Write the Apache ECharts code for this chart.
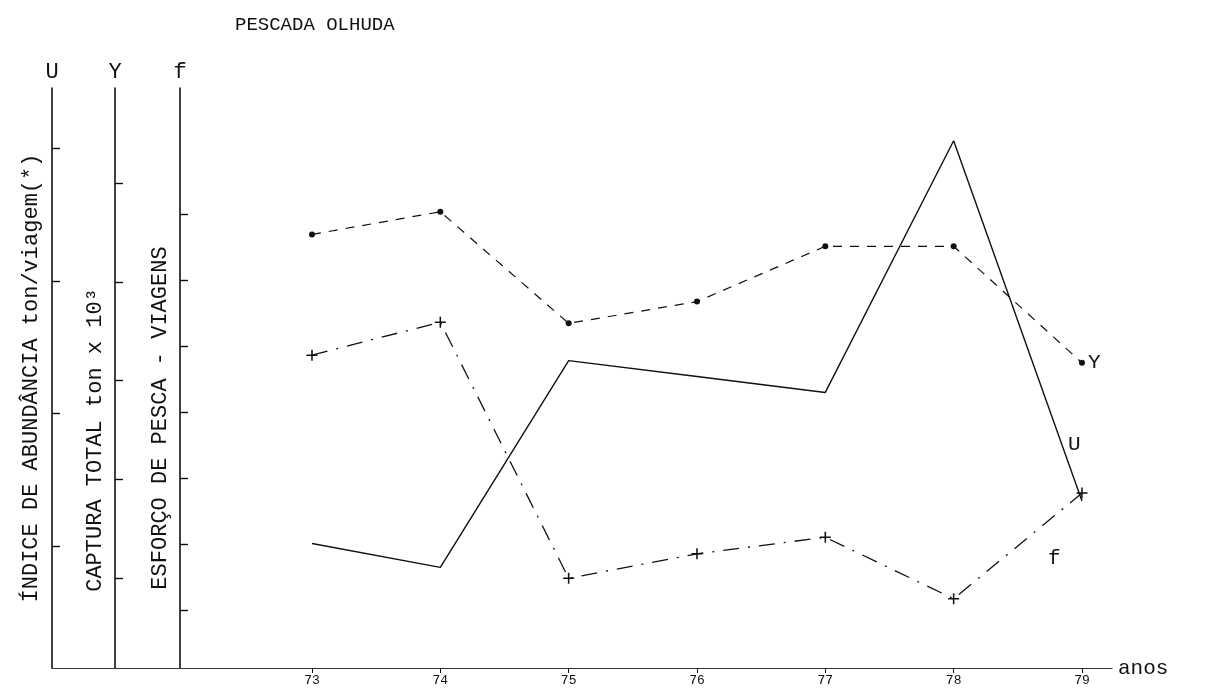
<!DOCTYPE html>
<html>
<head>
<meta charset="utf-8">
<script src="https://cdn.jsdelivr.net/npm/echarts@6/dist/echarts.min.js"></script>
<style>
  html, body { margin: 0; padding: 0; background: #fff; }
  #chart { width: 1217px; height: 697px; }
</style>
</head>
<body>
<div id="chart"></div>
<script>
// Years (19xx) along the horizontal axis
const years = [73, 74, 75, 76, 77, 78, 79];
// U: índice de abundância (ton/viagem)
const indiceU = [0.51, 0.42, 1.20, 1.14, 1.08, 2.03, 0.67];
// Y: captura total (ton x 10^3)
const capturaY = [4.48, 4.71, 3.58, 3.80, 4.36, 4.36, 3.18];
// f: esforço de pesca (viagens)
const esforcoF = [4.86, 5.36, 1.48, 1.85, 2.10, 1.17, 2.77];

// Unlabelled tick positions on each vertical scale
const uTicks = [0.5, 1, 1.5, 2];
const yTicks = [1, 2, 3, 4, 5];
const fTicks = [1, 2, 3, 4, 5, 6, 7];

const FONT = '"Liberation Mono", "DejaVu Sans Mono", monospace';
const INK = '#111';

const pairs = vals => years.map((yr, i) => [yr, vals[i]]);

const chart = echarts.init(document.getElementById('chart'), null, { renderer: 'canvas' });

const yAxisBase = (name, offset, min, max, ticks) => ({
  type: 'value',
  position: 'left',
  offset: offset,
  min: min,
  max: max,
  name: name,
  nameLocation: 'end',
  nameGap: 5,
  nameTextStyle: { fontFamily: FONT, fontSize: 22, color: INK },
  axisLine: { show: true, lineStyle: { color: INK, width: 1.6 } },
  axisTick: { show: true, inside: true, length: 8, customValues: ticks, lineStyle: { color: INK, width: 1.4 } },
  axisLabel: { show: false },
  splitLine: { show: false }
});

const option = {
  backgroundColor: '#fff',
  animation: false,
  title: {
    text: 'PESCADA OLHUDA',
    left: 230,
    top: 10,
    textStyle: { fontFamily: FONT, fontSize: 19, fontWeight: 'normal', color: INK }
  },
  grid: { left: 52, right: 105, top: 88, bottom: 29, outerBoundsMode: 'none' },
  xAxis: {
    type: 'value',
    min: 70.974,
    max: 79.234,
    name: 'anos',
    nameLocation: 'end',
    nameGap: 6,
    nameTextStyle: { fontFamily: FONT, fontSize: 21, color: INK, padding: [0, 0, 8, 0] },
    axisLine: { show: true, lineStyle: { color: '#333', width: 1.2 } },
    axisTick: { show: true, length: 5, customValues: years, lineStyle: { color: INK } },
    axisLabel: { show: true, customValues: years, fontFamily: FONT, fontSize: 13, color: INK, margin: 6 },
    splitLine: { show: false }
  },
  yAxis: [
    yAxisBase('U', 0, 0.04, 2.229, uTicks),
    yAxisBase('Y', -63, 0.09, 5.963, yTicks),
    yAxisBase('f', -128, 0.12, 8.908, fTicks)
  ],
  series: [
    {
      name: 'U',
      type: 'line',
      yAxisIndex: 0,
      data: pairs(indiceU),
      symbol: 'none',
      lineStyle: { color: INK, width: 1.4, type: 'solid' },
      endLabel: {
        show: true, formatter: 'U', offset: [-22, -57],
        fontFamily: FONT, fontSize: 21, color: INK
      }
    },
    {
      name: 'Y',
      type: 'line',
      yAxisIndex: 1,
      data: pairs(capturaY),
      symbol: 'circle',
      symbolSize: 6,
      itemStyle: { color: INK },
      lineStyle: { color: INK, width: 1.2, type: [9, 8] },
      endLabel: {
        show: true, formatter: 'Y', distance: 6,
        fontFamily: FONT, fontSize: 21, color: INK
      }
    },
    {
      name: 'f',
      type: 'line',
      yAxisIndex: 2,
      data: pairs(esforcoF),
      symbol: 'path://M4.3,0H5.7V10H4.3Z M0,4.3H10V5.7H0Z',
      symbolSize: 11,
      itemStyle: { color: INK },
      lineStyle: { color: INK, width: 1.3, type: [16, 9, 2, 9] },
      endLabel: {
        show: true, formatter: 'f', offset: [-42, 65],
        fontFamily: FONT, fontSize: 21, color: INK
      }
    }
  ],
  graphic: [
    {
      type: 'text', x: 31, y: 378, rotation: Math.PI / 2,
      style: { text: 'ÍNDICE DE ABUNDÂNCIA ton/viagem(*)', font: '22px ' + FONT, fill: INK, textAlign: 'center', textVerticalAlign: 'middle' }
    },
    {
      type: 'text', x: 95, y: 440, rotation: Math.PI / 2,
      style: { text: 'CAPTURA TOTAL ton x 10³', font: '22px ' + FONT, fill: INK, textAlign: 'center', textVerticalAlign: 'middle' }
    },
    {
      type: 'text', x: 160, y: 418, rotation: Math.PI / 2,
      style: { text: 'ESFORÇO DE PESCA - VIAGENS', font: '22px ' + FONT, fill: INK, textAlign: 'center', textVerticalAlign: 'middle' }
    }
  ]
};

chart.setOption(option);
</script>
</body>
</html>
